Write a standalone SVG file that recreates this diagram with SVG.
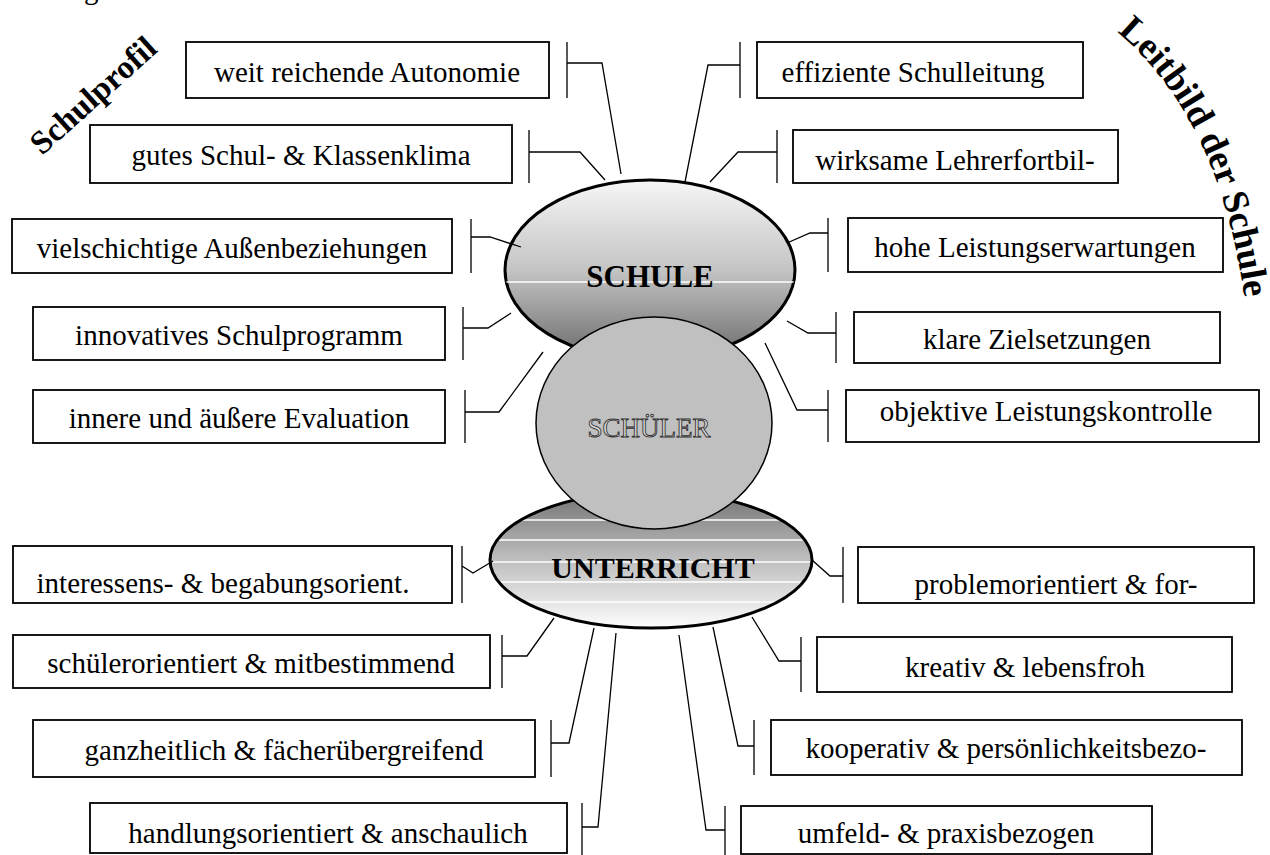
<svg xmlns="http://www.w3.org/2000/svg" width="1270" height="855" viewBox="0 0 1270 855">
<style>
.box{fill:#fff;stroke:#000;stroke-width:1.8}
.t{font-family:"Liberation Serif","Times New Roman",serif;font-size:29px;text-anchor:middle;fill:#000}
.c{fill:none;stroke:#000;stroke-width:1.3}
.ttl{font-family:"Liberation Serif","Times New Roman",serif;font-weight:bold;fill:#000}
.hl{stroke:#fff;stroke-width:1.4}
</style>
<defs>
<linearGradient id="gS" x1="0" y1="0" x2="0" y2="1">
<stop offset="0" stop-color="#f6f6f6"/>
<stop offset="0.5" stop-color="#c4c4c4"/>
<stop offset="1" stop-color="#6a6a6a"/>
</linearGradient>
<linearGradient id="gU" x1="0" y1="0" x2="0" y2="1">
<stop offset="0" stop-color="#727272"/>
<stop offset="0.45" stop-color="#b8b8b8"/>
<stop offset="1" stop-color="#fdfdfd"/>
</linearGradient>
<clipPath id="cS"><ellipse cx="650" cy="270" rx="145" ry="90"/></clipPath>
<clipPath id="cU"><ellipse cx="651" cy="560" rx="161" ry="68"/></clipPath>
<path id="arc" d="M1117,32 Q1220,118 1245,302"/>
</defs>
<rect width="1270" height="855" fill="#fff"/>
<text class="t" x="84" y="-1" style="text-anchor:start">g</text>
<g id="title-schulprofil"><text class="ttl" font-size="33" transform="translate(42,156) rotate(-42)">Schulprofil</text></g>
<g id="title-leitbild"><text class="ttl" font-size="37"><textPath href="#arc">Leitbild der Schule</textPath></text></g>
<g id="schule">
<ellipse cx="650" cy="270" rx="145" ry="90" fill="url(#gS)" stroke="#000" stroke-width="3"/>
<line class="hl" x1="500" y1="282" x2="800" y2="282" clip-path="url(#cS)"/>
<text class="ttl" font-size="31" x="650" y="287" text-anchor="middle">SCHULE</text>
</g>
<g id="unterricht">
<ellipse cx="651" cy="560" rx="161" ry="68" fill="url(#gU)"/>
<g clip-path="url(#cU)">
<line class="hl" x1="480" y1="500" x2="820" y2="500"/>
<line class="hl" x1="480" y1="520" x2="820" y2="520"/>
<line class="hl" x1="480" y1="540" x2="820" y2="540"/>
<line class="hl" x1="480" y1="562" x2="820" y2="562"/>
<line class="hl" x1="480" y1="582" x2="820" y2="582"/>
<line class="hl" x1="480" y1="602" x2="820" y2="602"/>
</g>
<ellipse cx="651" cy="560" rx="161" ry="68" fill="none" stroke="#000" stroke-width="3"/>
<text class="ttl" font-size="30" x="653" y="578" text-anchor="middle">UNTERRICHT</text>
</g>
<g id="schueler">
<ellipse cx="654" cy="423" rx="118" ry="106" fill="#c0c0c0" stroke="#000" stroke-width="1.5"/>
<text x="649" y="437" font-family="Liberation Serif, Times New Roman, serif" font-size="27" text-anchor="middle" fill="#dcdcdc" stroke="#333" stroke-width="0.9">SCHÜLER</text>
</g>
<g id="connectors">
<path class="c" d="M567,42V98M567,63H602L621,174"/>
<path class="c" d="M529,130V183M529,152H580L605,180"/>
<path class="c" d="M471,219V273M471,237H490L521,247"/>
<path class="c" d="M463,307V360M463,328H488L511,313"/>
<path class="c" d="M465,390V443M465,412H499L543,352"/>
<path class="c" d="M462,546V603M462,566L473,573L493,561"/>
<path class="c" d="M502,635V688M502,656H527L554,618"/>
<path class="c" d="M551,720V777M551,743H569L594,628"/>
<path class="c" d="M582,803V855M582,827H598L616,633"/>
<path class="c" d="M740,42V98M740,65H708L685,182"/>
<path class="c" d="M777,130V183M777,152H738L710,182"/>
<path class="c" d="M828,218V272M828,233H810L787,243"/>
<path class="c" d="M836,312V363M836,333H808L787,321"/>
<path class="c" d="M828,390V442M828,410H797L765,343"/>
<path class="c" d="M843,547V603M843,576H830L812,560"/>
<path class="c" d="M801,637V692M801,661H779L752,617"/>
<path class="c" d="M754,720V775M754,746H738L713,627"/>
<path class="c" d="M725,806V855M725,830H706L679,635"/>
</g>
<g id="n-autonomie"><rect class="box" x="186" y="42" width="363" height="56"/><text class="t" x="367" y="82">weit reichende Autonomie</text></g>
<g id="n-klima"><rect class="box" x="90" y="125" width="422" height="58"/><text class="t" x="301" y="165">gutes Schul- &amp; Klassenklima</text></g>
<g id="n-aussen"><rect class="box" x="12" y="219" width="440" height="54"/><text class="t" x="232" y="258">vielschichtige Außenbeziehungen</text></g>
<g id="n-programm"><rect class="box" x="33" y="307" width="412" height="53"/><text class="t" x="239" y="345">innovatives Schulprogramm</text></g>
<g id="n-evaluation"><rect class="box" x="33" y="390" width="412" height="53"/><text class="t" x="239" y="428">innere und äußere Evaluation</text></g>
<g id="n-interessen"><rect class="box" x="13" y="546" width="439" height="57"/><text class="t" x="223" y="593">interessens- &amp; begabungsorient.</text></g>
<g id="n-schuelerorient"><rect class="box" x="13" y="635" width="477" height="53"/><text class="t" x="251" y="673">schülerorientiert &amp; mitbestimmend</text></g>
<g id="n-ganzheitlich"><rect class="box" x="33" y="720" width="502" height="57"/><text class="t" x="284" y="760">ganzheitlich &amp; fächerübergreifend</text></g>
<g id="n-handlung"><rect class="box" x="90" y="803" width="477" height="50"/><text class="t" x="328" y="843">handlungsorientiert &amp; anschaulich</text></g>
<g id="n-leitung"><rect class="box" x="757" y="42" width="326" height="56"/><text class="t" x="913" y="82">effiziente Schulleitung</text></g>
<g id="n-fortbildung"><rect class="box" x="793" y="130" width="325" height="53"/><text class="t" x="955" y="170">wirksame Lehrerfortbil-</text></g>
<g id="n-leistung"><rect class="box" x="848" y="218" width="375" height="54"/><text class="t" x="1035" y="257">hohe Leistungserwartungen</text></g>
<g id="n-ziele"><rect class="box" x="854" y="312" width="366" height="51"/><text class="t" x="1037" y="349">klare Zielsetzungen</text></g>
<g id="n-kontrolle"><rect class="box" x="846" y="390" width="413" height="52"/><text class="t" x="1046" y="421">objektive Leistungskontrolle</text></g>
<g id="n-problem"><rect class="box" x="858" y="547" width="396" height="56"/><text class="t" x="1056" y="594">problemorientiert &amp; for-</text></g>
<g id="n-kreativ"><rect class="box" x="817" y="637" width="415" height="55"/><text class="t" x="1025" y="677">kreativ &amp; lebensfroh</text></g>
<g id="n-kooperativ"><rect class="box" x="771" y="720" width="471" height="55"/><text class="t" x="1006" y="758">kooperativ &amp; persönlichkeitsbezo-</text></g>
<g id="n-umfeld"><rect class="box" x="741" y="806" width="411" height="48"/><text class="t" x="946" y="843">umfeld- &amp; praxisbezogen</text></g>
</svg>
